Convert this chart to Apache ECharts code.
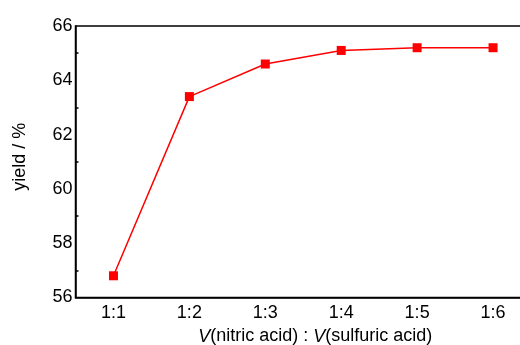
<!DOCTYPE html>
<html>
<head>
<meta charset="utf-8">
<script src="https://cdn.jsdelivr.net/npm/echarts@6/dist/echarts.min.js"></script>
<style>
  html, body { margin: 0; padding: 0; background: #fff; }
  #chart { width: 520px; height: 345px; }
</style>
</head>
<body>
<div id="chart"></div>
<script>
// ratios of nitric acid to sulfuric acid (by volume)
const ratios = ["1:1", "1:2", "1:3", "1:4", "1:5", "1:6"];
// yield in %
const yields = [56.8, 63.4, 64.6, 65.1, 65.2, 65.2];
const yTicks = [56, 58, 60, 62, 64, 66];

const myChart = echarts.init(document.getElementById("chart"));

const font = "Liberation Sans, Arial, sans-serif";

const option = {
  animation: false,
  grid: {
    left: 75.5,
    top: 26,
    right: -11,
    bottom: 47.5,
    outerBoundsMode: "none",
    containLabel: false,
    show: true,
    borderColor: "#000",
    borderWidth: 1.5,
  },
  xAxis: [
    {
      type: "category",
      data: ratios,
      boundaryGap: true,
      axisLine: { lineStyle: { color: "#000", width: 1.5 } },
      axisTick: { alignWithLabel: true, inside: true, length: 5, lineStyle: { color: "#000", width: 1.5 } },
      axisLabel: { color: "#000", fontSize: 18, fontFamily: font, margin: 7 },
      splitLine: { show: false },
      name: "{i|V}(nitric acid) : {i|V}(sulfuric acid)",
      nameLocation: "middle",
      nameGap: 30,
      nameTextStyle: {
        color: "#000",
        fontSize: 18,
        fontFamily: font,
        padding: [0, 0, 0, 24],
        rich: {
          i: { fontStyle: "italic", fontSize: 18, fontFamily: font, color: "#000" },
        },
      },
    },
    {
      // short ticks between categories
      type: "category",
      data: ratios,
      position: "bottom",
      boundaryGap: true,
      axisLine: { show: false },
      axisTick: { inside: true, length: 3, lineStyle: { color: "#000", width: 1.5 } },
      axisLabel: { show: false },
      splitLine: { show: false },
    },
  ],
  yAxis: {
    type: "value",
    min: yTicks[0],
    max: yTicks[yTicks.length - 1],
    interval: 2,
    axisLine: { show: true, lineStyle: { color: "#000", width: 1.5 } },
    axisTick: { inside: true, length: 5, lineStyle: { color: "#000", width: 1.5 } },
    minorTick: { show: true, splitNumber: 2, length: 3, lineStyle: { color: "#000", width: 1.5 } },
    axisLabel: { color: "#000", fontSize: 18, fontFamily: font, margin: 3 },
    splitLine: { show: false },
    name: "yield / %",
    nameLocation: "middle",
    nameGap: 46,
    nameTextStyle: { color: "#000", fontSize: 18, fontFamily: font, padding: [0, 0, 0, 10] },
  },
  series: [
    {
      type: "line",
      data: yields,
      xAxisIndex: 0,
      symbol: "rect",
      symbolSize: 9,
      lineStyle: { color: "#ff0000", width: 1.5 },
      itemStyle: { color: "#ff0000" },
    },
  ],
};

myChart.setOption(option);
</script>
</body>
</html>
